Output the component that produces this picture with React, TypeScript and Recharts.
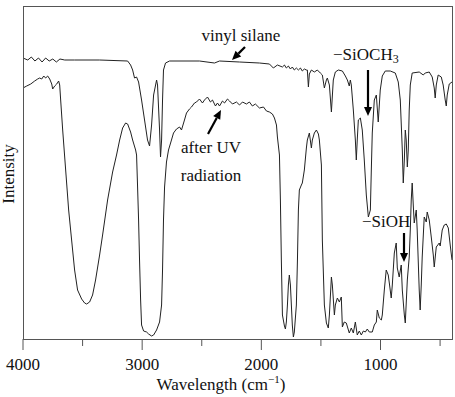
import { LineChart, Line, XAxis, YAxis } from 'recharts';

// [wavenumber cm^-1, intensity (a.u.)]
const vinylSilane: [number, number][] = [
  [4000, 281], [3960, 279], [3930, 282], [3900, 278], [3870, 281], [3840, 277], [3810, 281],
  [3780, 278], [3750, 280], [3720, 277], [3690, 280], [3650, 279], [3567, 279], [3357, 279],
  [3122, 278], [3097, 274], [3080, 269], [3064, 261], [3047, 262], [3030, 257], [3005, 239],
  [2980, 219], [2955, 199], [2938, 193], [2921, 214], [2904, 244], [2879, 259], [2871, 254],
  [2854, 209], [2846, 182], [2837, 199], [2829, 239], [2821, 269], [2804, 276], [2770, 278],
  [2519, 278], [2393, 276], [2351, 278], [2183, 277], [2016, 276], [1932, 275], [1899, 271],
  [1865, 274], [1823, 272], [1806, 274], [1790, 271], [1773, 273], [1756, 270], [1740, 272],
  [1723, 269], [1706, 271], [1689, 269], [1672, 271], [1656, 268], [1639, 270], [1622, 269],
  [1614, 269], [1605, 252], [1597, 265], [1580, 269], [1555, 267], [1530, 269], [1505, 266],
  [1488, 264], [1471, 251], [1454, 259], [1446, 261], [1429, 254], [1412, 227], [1396, 259],
  [1379, 267], [1354, 269], [1320, 268], [1295, 263], [1278, 259], [1262, 253], [1253, 259],
  [1245, 254], [1228, 229], [1211, 199], [1203, 179], [1195, 199], [1186, 219], [1169, 221],
  [1153, 209], [1136, 179], [1119, 144], [1102, 122], [1085, 129], [1077, 169], [1069, 206],
  [1052, 239], [1035, 244], [1019, 217], [1002, 249], [985, 263], [960, 268], [918, 268],
  [876, 266], [851, 257], [834, 239], [817, 189], [809, 156], [800, 179], [792, 209], [784, 199],
  [775, 172], [767, 189], [759, 229], [750, 254], [734, 266], [675, 267], [641, 264], [625, 266],
  [591, 267], [566, 262], [549, 251], [541, 241], [532, 254], [516, 264], [490, 262], [474, 254],
  [457, 239], [448, 233], [440, 244], [423, 255], [400, 257],
];

const afterUV: [number, number][] = [
  [4000, 251], [3969, 253], [3935, 255], [3902, 258], [3877, 260], [3860, 261], [3843, 260],
  [3826, 263], [3810, 261], [3793, 263], [3776, 260], [3759, 255], [3751, 250], [3734, 253],
  [3717, 255], [3701, 258], [3692, 254], [3684, 239], [3667, 209], [3642, 169], [3617, 129],
  [3592, 99], [3567, 69], [3542, 49], [3508, 40], [3483, 36], [3466, 35], [3441, 37], [3416, 44],
  [3391, 59], [3357, 84], [3332, 104], [3290, 139], [3248, 167], [3215, 184], [3189, 199],
  [3164, 211], [3139, 216], [3122, 215], [3097, 207], [3080, 199], [3055, 189], [3047, 184],
  [3039, 154], [3030, 119], [3022, 79], [3013, 39], [3005, 14], [2988, 8], [2963, 7], [2946, 5],
  [2921, 3], [2904, 4], [2879, 9], [2854, 17], [2837, 34], [2829, 69], [2821, 119], [2812, 152],
  [2796, 177], [2779, 189], [2754, 199], [2737, 206], [2712, 210], [2686, 212], [2670, 209],
  [2645, 219], [2628, 226], [2603, 230], [2586, 232], [2561, 236], [2544, 237], [2519, 240],
  [2494, 236], [2477, 239], [2452, 242], [2427, 237], [2410, 239], [2385, 233], [2368, 236],
  [2351, 233], [2326, 238], [2309, 236], [2284, 240], [2267, 238], [2242, 235], [2209, 237],
  [2183, 234], [2158, 237], [2125, 235], [2100, 237], [2075, 233], [2050, 235], [2016, 231],
  [1982, 232], [1957, 228], [1932, 227], [1907, 225], [1890, 221], [1873, 214], [1865, 202],
  [1848, 184], [1840, 139], [1832, 79], [1823, 24], [1806, 13], [1798, 10], [1790, 17],
  [1781, 34], [1773, 54], [1765, 64], [1756, 54], [1748, 34], [1740, 14], [1731, 2], [1723, 7],
  [1706, 34], [1697, 79], [1689, 129], [1681, 149], [1664, 154], [1656, 156], [1639, 169],
  [1622, 191], [1614, 199], [1597, 206], [1580, 191], [1572, 199], [1555, 206], [1538, 209],
  [1521, 205], [1513, 199], [1496, 174], [1488, 99], [1471, 34], [1454, 16], [1438, 11],
  [1429, 24], [1412, 62], [1404, 54], [1387, 24], [1379, 34], [1362, 41], [1345, 37], [1329, 42],
  [1320, 12], [1304, 17], [1287, 16], [1262, 6], [1245, 11], [1228, 6], [1211, 17], [1195, 4],
  [1178, 8], [1161, 4], [1144, 8], [1127, 7], [1111, 10], [1094, 7], [1069, 7], [1052, 14],
  [1035, 17], [1027, 29], [1010, 21], [993, 19], [985, 24], [968, 49], [952, 69], [935, 64],
  [926, 56], [910, 41], [901, 54], [884, 86], [868, 96], [859, 71], [843, 62], [826, 74],
  [817, 49], [800, 24], [792, 16], [775, 59], [759, 82], [750, 109], [742, 139], [734, 156],
  [725, 134], [717, 116], [700, 129], [692, 109], [675, 49], [667, 29], [658, 54], [650, 82],
  [633, 122], [616, 117], [608, 127], [591, 119], [574, 102], [557, 84], [549, 72], [532, 92],
  [507, 96], [499, 93], [482, 109], [465, 114], [448, 115], [431, 111], [415, 94], [400, 79],
];

const xTicks = [4000, 3500, 3000, 2500, 2000, 1500, 1000, 500];

const toRows = (pts: [number, number][]) => pts.map(([w, v]) => ({ w, v }));

const FONT = "'Liberation Serif', 'Times New Roman', serif";
const AXIS = '#555';
const INK = '#222';

// plot frame, matches chart margins below
const FRAME = { left: 23, top: 6, right: 452, bottom: 339 };

const WaveTick = (props: any) => {
  const { x, y, payload } = props;
  const major = payload.value % 1000 === 0;
  return (
    <g>
      <line x1={x} x2={x} y1={y} y2={y + (major ? 11 : 7)} stroke={AXIS} strokeWidth={1} />
      {major && (
        <text x={x} y={y + 31} textAnchor="middle" style={{ fontFamily: FONT, fontSize: 17 }} fill="#111">
          {payload.value}
        </text>
      )}
    </g>
  );
};

function Arrow({ x1, y1, x2, y2 }: { x1: number; y1: number; x2: number; y2: number }) {
  const a = Math.atan2(y2 - y1, x2 - x1);
  const len = 9;
  const half = 4;
  const bx = x2 - len * Math.cos(a);
  const by = y2 - len * Math.sin(a);
  const px = -Math.sin(a) * half;
  const py = Math.cos(a) * half;
  return (
    <g>
      <line x1={x1} y1={y1} x2={bx} y2={by} stroke="#000" strokeWidth={2.2} />
      <polygon points={`${x2},${y2} ${bx + px},${by + py} ${bx - px},${by - py}`} fill="#000" />
    </g>
  );
}

export default function App() {
  return (
    <div style={{ position: 'absolute', left: 0, top: 0, width: 455, height: 397, background: '#fff' }}>
      <LineChart width={455} height={397} margin={{ top: 6, right: 3, left: 23, bottom: 8 }}>
        <XAxis
          dataKey="w"
          type="number"
          domain={[400, 4000]}
          reversed
          allowDataOverflow
          ticks={xTicks}
          interval={0}
          height={50}
          tickSize={0}
          tickMargin={0}
          tickLine={false}
          tick={<WaveTick />}
          axisLine={false}
        />
        <YAxis type="number" domain={[0, 333]} width={0} tick={false} tickLine={false} axisLine={false} />
        <Line data={toRows(vinylSilane)} dataKey="v" type="linear" stroke={INK} strokeWidth={1} dot={false} isAnimationActive={false} />
        <Line data={toRows(afterUV)} dataKey="v" type="linear" stroke={INK} strokeWidth={1} dot={false} isAnimationActive={false} />
      </LineChart>
      <svg width={455} height={397} style={{ position: 'absolute', left: 0, top: 0, pointerEvents: 'none' }}>
        <rect
          x={FRAME.left}
          y={FRAME.top}
          width={FRAME.right - FRAME.left}
          height={FRAME.bottom - FRAME.top}
          fill="none"
          stroke={AXIS}
          strokeWidth={1}
          shapeRendering="crispEdges"
        />
        <g style={{ fontFamily: FONT, fontSize: 17 }} fill="#111">
          <text x={241} y={41} textAnchor="middle">vinyl silane</text>
          <text x={333} y={60}>
            −SiOCH<tspan style={{ fontSize: 12 }} dy={3}>3</tspan>
          </text>
          <text x={211} y={153} textAnchor="middle">after UV</text>
          <text x={211} y={181} textAnchor="middle">radiation</text>
          <text x={362} y={227}>−SiOH</text>
          <text x={221} y={390} textAnchor="middle">
            Wavelength (cm<tspan style={{ fontSize: 11 }} dy={-7}>−1</tspan>
            <tspan dy={7}>)</tspan>
          </text>
          <text x={14} y={174} textAnchor="middle" transform="rotate(-90 14 174)">Intensity</text>
        </g>
        <Arrow x1={245} y1={47} x2={232} y2={60} />
        <Arrow x1={368} y1={70} x2={368} y2={116} />
        <Arrow x1={208} y1={134} x2={221} y2={110} />
        <Arrow x1={404} y1={233} x2={404} y2={262} />
      </svg>
    </div>
  );
}
